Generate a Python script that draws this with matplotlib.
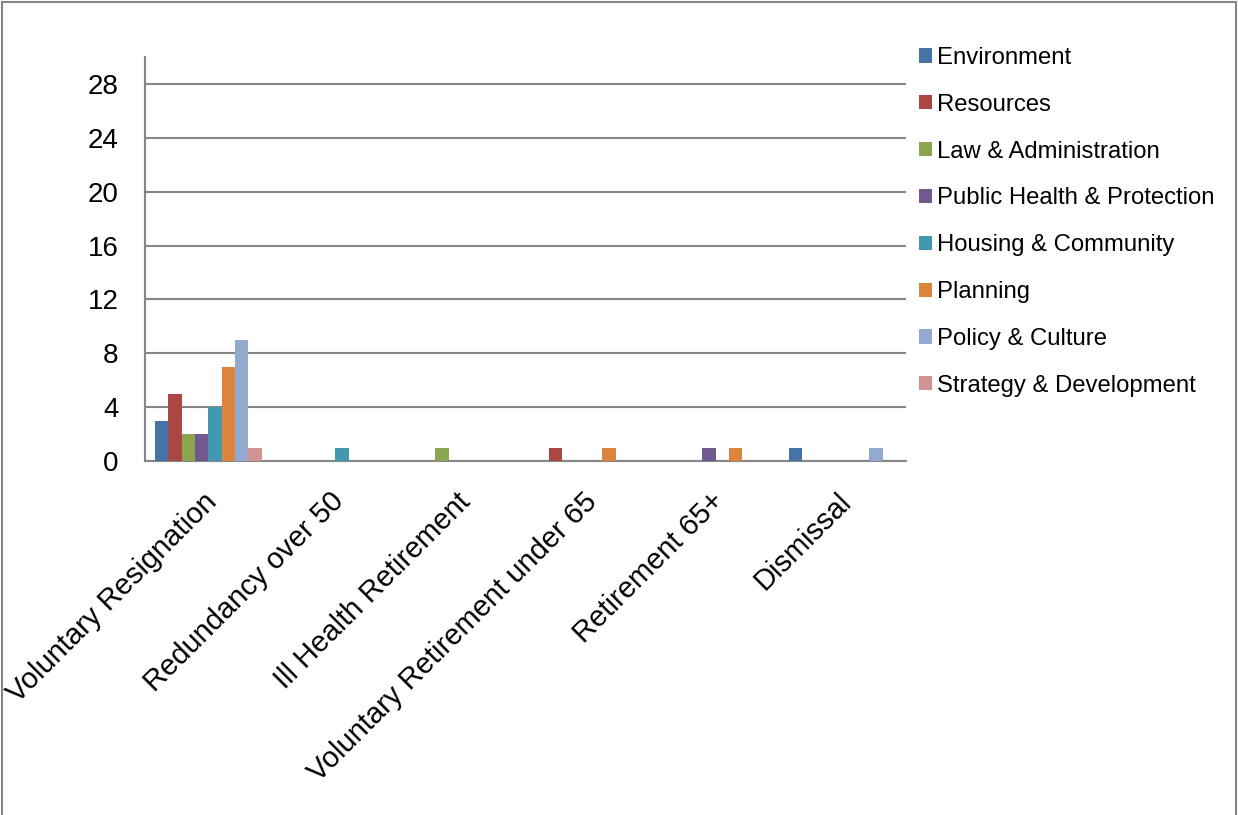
import numpy as np
import matplotlib.pyplot as plt
import matplotlib.transforms as mtransforms
from matplotlib.patches import Rectangle

plt.rcParams['font.family'] = ['Liberation Sans', 'DejaVu Sans']

# leaving reasons and the departments
reasons = ['Voluntary Resignation', 'Redundancy over 50', 'Ill Health Retirement',
           'Voluntary Retirement under 65', 'Retirement 65+', 'Dismissal']
departments = ['Environment', 'Resources', 'Law & Administration',
               'Public Health & Protection', 'Housing & Community', 'Planning',
               'Policy & Culture', 'Strategy & Development']

# counts per department, one value per reason
environment = [3, 0, 0, 0, 0, 1]
resources = [5, 0, 0, 1, 0, 0]
law_admin = [2, 0, 1, 0, 0, 0]
public_health = [2, 0, 0, 0, 1, 0]
housing = [4, 1, 0, 0, 0, 0]
planning = [7, 0, 0, 1, 1, 0]
policy = [9, 0, 0, 0, 0, 1]
strategy = [1, 0, 0, 0, 0, 0]

series = [environment, resources, law_admin, public_health, housing,
          planning, policy, strategy]
colours = ['#4572A7', '#AA4643', '#89A54E', '#71588F', '#4198AF',
           '#DB843D', '#93A9CF', '#D19392']

fig = plt.figure(figsize=(12.38, 8.15), dpi=100)
ax = fig.add_axes([0.1171, 0.4344, 0.6147, 0.4956])

x = np.arange(len(reasons))
w = 1 / (len(series) + 1.5)
for i, (vals, c, name) in enumerate(zip(series, colours, departments)):
    pos = x - 0.5 + 0.75 * w + i * w
    ax.bar(pos, vals, width=w, color=c, label=name, align='edge',
           linewidth=0, zorder=3)

ax.set_xlim(-0.5, len(reasons) - 0.5)
ax.set_ylim(0, 30)
ax.set_yticks(np.arange(0, 29, 4))
ax.yaxis.grid(True, color='#868686', linewidth=1.5, zorder=0)
ax.tick_params(axis='y', length=0, labelsize=20, pad=19)
ax.tick_params(axis='x', length=0, labelsize=21, pad=19)
ax.set_xticks(x)
ax.set_xticklabels(reasons, rotation=45, ha='right', va='top',
                   rotation_mode='anchor')
shift = mtransforms.ScaledTranslation(-6 / 100, 0, fig.dpi_scale_trans)
for lab in ax.get_xticklabels():
    lab.set_transform(lab.get_transform() + shift)

for side in ['top', 'right']:
    ax.spines[side].set_visible(False)
for side in ['left', 'bottom']:
    ax.spines[side].set_color('#868686')
    ax.spines[side].set_linewidth(1.5)

leg = ax.legend(loc='upper left', bbox_to_anchor=(0.7423, 0.9425),
                bbox_transform=fig.transFigure, frameon=False,
                fontsize=17.2, handlelength=0.54, handleheight=0.54,
                handletextpad=0.2, labelspacing=1.04, borderpad=0,
                borderaxespad=0)

# outer frame round the chart area
fig.patches.append(Rectangle((0.002, -0.01), 0.996, 1.007, transform=fig.transFigure,
                             fill=False, edgecolor='#868686', linewidth=1.5))

fig.savefig('out.png', dpi=100)
